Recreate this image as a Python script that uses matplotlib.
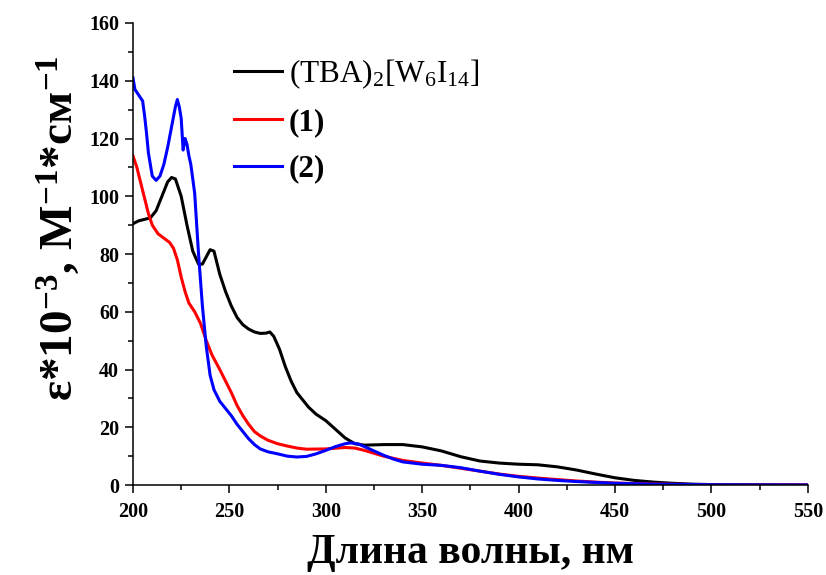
import matplotlib
matplotlib.use('Agg')
import matplotlib.pyplot as plt

# (TBA)2[W6I14]
x_tba = [200, 203, 206, 209, 212, 215, 218, 220, 222, 225, 228, 231, 234, 236, 238, 240, 242,
         245, 248, 251, 254, 257, 260, 263, 266, 269, 271, 273, 276, 279, 282, 285, 288, 291,
         295, 300, 305, 310, 315, 320, 330, 340, 350, 360, 370, 380, 390, 400, 410, 420, 430,
         440, 450, 460, 470, 480, 490, 500, 520, 550]
y_tba = [90.5, 91.5, 92, 92.5, 95, 100, 105, 106.5, 106, 100, 90, 81, 76.5, 76.5, 79, 81.5, 81,
         73, 67, 62, 58, 55.5, 54, 53, 52.5, 52.6, 53, 51.5, 47, 41, 36, 32, 29.5, 27,
         24.5, 22.3, 19.3, 16.3, 14.3, 13.8, 14, 14, 13.2, 11.8, 9.8, 8.3, 7.6, 7.2, 7, 6.3, 5.2,
         3.8, 2.5, 1.6, 1, 0.6, 0.3, 0.15, 0.05, 0]

# (1)
x_1 = [200, 202, 205, 208, 210, 213, 216, 219, 221, 223, 225, 227, 229, 232, 235, 238, 241,
       245, 248, 251, 254, 257, 260, 263, 266, 270, 275, 280, 285, 290, 300, 310, 315, 320,
       325, 330, 340, 350, 360, 370, 380, 390, 400, 410, 420, 430, 440, 450, 460, 480, 500, 550]
y_1 = [114, 110, 102, 94, 90, 87, 85.5, 84, 82, 78, 72, 67, 63, 60, 56, 50, 45,
       40, 36, 32, 27.5, 24, 21, 18.5, 17, 15.5, 14.3, 13.5, 12.8, 12.4, 12.5, 13, 12.8, 12,
       11, 10, 8.5, 7.6, 6.8, 5.8, 4.8, 3.8, 3, 2.4, 1.9, 1.4, 1, 0.7, 0.5, 0.25, 0.1, 0]

# (2)
x_2 = [200, 201, 203, 205, 206, 207, 208, 210, 212, 214, 216, 218, 220, 222, 223, 224, 225,
       226, 227, 228, 229, 230, 232, 234, 236, 238, 240, 242, 245, 248, 251, 254, 257, 260,
       263, 266, 270, 275, 280, 285, 290, 295, 300, 305, 310, 313, 317, 320, 325, 330, 335,
       340, 350, 360, 370, 380, 390, 400, 410, 420, 430, 440, 450, 470, 500, 550]
y_2 = [141, 137, 135, 133, 128, 122, 115, 107, 105.5, 107, 111, 117, 124, 131, 133.5, 131, 127,
       116, 120, 118, 114, 111, 101, 80, 62, 48, 38, 33, 29, 26.5, 24, 21, 18.5, 16,
       14, 12.5, 11.5, 10.8, 10, 9.7, 9.9, 10.8, 12, 13.3, 14.3, 14.6, 14.2, 13.3, 11.8, 10.3, 9,
       8, 7.2, 6.8, 6, 4.8, 3.7, 2.8, 2.1, 1.6, 1.2, 0.9, 0.6, 0.3, 0.1, 0]

plt.rcParams['font.family'] = ['Liberation Serif', 'DejaVu Serif']
plt.rcParams['mathtext.fontset'] = 'custom'
plt.rcParams['mathtext.rm'] = 'Liberation Serif'
plt.rcParams['mathtext.it'] = 'Liberation Serif:italic'
plt.rcParams['mathtext.bf'] = 'Liberation Serif:bold'

fig = plt.figure(figsize=(8.26, 5.75), dpi=100)
ax = fig.add_axes([0.161, 0.1565, 0.817, 0.8035])

ax.plot(x_tba, y_tba, color='black', lw=2.2, label='(TBA)$_2$[W$_6$I$_{14}$]')
ax.plot(x_1, y_1, color='red', lw=2.2, label='(1)')
ax.plot(x_2, y_2, color='blue', lw=2.2, label='(2)')

ax.set_xlim(200, 550)
ax.set_ylim(0, 160)
ax.set_xticks(range(200, 551, 50))
ax.set_xticks(range(225, 551, 50), minor=True)
ax.set_yticks(range(0, 161, 20))
ax.set_yticks(range(10, 161, 20), minor=True)

ax.spines['top'].set_visible(False)
ax.spines['right'].set_visible(False)
for s in ['left', 'bottom']:
    ax.spines[s].set_linewidth(1.1)
ax.tick_params(which='major', direction='out', length=6, width=1.1)
ax.tick_params(which='minor', direction='out', length=3.5, width=1.1)
ax.tick_params(axis='x', which='major', pad=6)
ax.tick_params(axis='y', which='major', pad=4)
for lab in ax.get_xticklabels() + ax.get_yticklabels():
    lab.set_fontsize(14.5)
    lab.set_fontweight('bold')

ax.set_xlabel('Длина волны, нм', fontsize=30, fontweight='bold', labelpad=9)
ax.set_ylabel(r'ε*10$^{\mathbf{-3}}$, М$^{\mathbf{-1}}$*cм$^{\mathbf{-1}}$',
              fontsize=34, fontweight='bold')
ax.yaxis.set_label_coords(-0.075, 0.556)

leg = ax.legend(loc='upper left', bbox_to_anchor=(0.149, 0.925), frameon=False,
                fontsize=22.5, handlelength=1.55, handletextpad=0.22, labelspacing=0.55,
                borderaxespad=0, borderpad=0)
for i, t in enumerate(leg.get_texts()):
    if i > 0:
        t.set_fontweight('bold')

fig.savefig('out.png', dpi=100)
